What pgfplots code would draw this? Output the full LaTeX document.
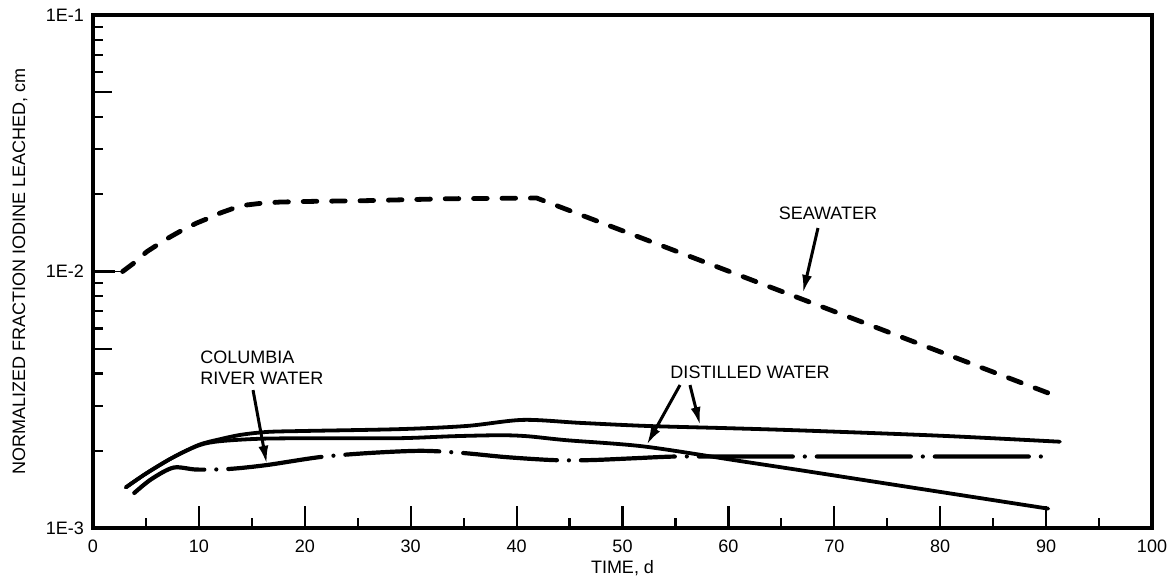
\documentclass[border=0pt]{standalone}
\usepackage{fontspec}
\setmainfont{Liberation Sans}
\usepackage{pgfplots}
\pgfplotsset{compat=1.18}
\usetikzlibrary{arrows.meta}

% leach curves: time (d) vs normalized fraction leached (cm)
\pgfplotstableread{
x y
2.8 0.01000
4.0 0.01090
5.07 0.01194
6.2 0.01280
7.27 0.01363
8.5 0.01455
9.79 0.01545
11.0 0.01620
12.0 0.01690
13.2 0.01760
14.5 0.01817
16.0 0.01848
17.7 0.01866
21.0 0.01878
25.5 0.01888
33.4 0.01922
41.9 0.01934
90.2 0.00336
}\seawater
\pgfplotstableread{
x y
3.1 0.00144
5.0 0.00163
7.5 0.00188
10.0 0.00211
12.0 0.00222
14.0 0.00231
16.5 0.00237
20.0 0.00239
29.0 0.00243
35.3 0.00250
40.6 0.00264
46.0 0.00257
52.3 0.00250
60.0 0.00245
67.0 0.00240
80.0 0.00229
91.3 0.00217
}\distilledA
\pgfplotstableread{
x y
3.1 0.00144
5.0 0.00163
7.5 0.00188
10.0 0.00210
12.0 0.00218
16.0 0.00223
22.0 0.00224
29.0 0.00224
34.0 0.00228
38.4 0.00230
41.0 0.00228
44.7 0.00220
52.0 0.00208
60.9 0.00183
66.8 0.00168
75.4 0.00148
90.2 0.00119
}\distilledB
\pgfplotstableread{
x y
3.9 0.00137
5.5 0.00155
7.6 0.00172
9.8 0.00169
12.9 0.00170
16.4 0.00176
21.4 0.00189
26.0 0.00196
31.0 0.00200
35.0 0.00196
39.0 0.00189
43.5 0.00184
47.0 0.00184
51.0 0.00187
55.0 0.00190
60.0 0.00190
90.4 0.00190
}\columbia

\begin{document}
\begin{tikzpicture}[font=\fontsize{9}{10.5}\selectfont]
\useasboundingbox (-46.5pt,-29pt) rectangle (539pt,264pt);
\begin{axis}[
  at={(0pt,0pt)}, anchor=south west,
  scale only axis, width=529.5pt, height=256.5pt,
  xmin=0, xmax=100, ymode=log, ymin=1e-3, ymax=1e-1,
  xtick={0,10,...,100}, minor x tick num=1,
  ytick={1e-3,1e-2,1e-1}, yticklabels={1E-3,1E-2,1E-1},
  minor ytick={2e-3,3e-3,4e-3,6e-3,7e-3,8e-3,9e-3,2e-2,3e-2,4e-2,6e-2,7e-2,8e-2,9e-2},
  extra y ticks={5e-3,5e-2}, extra y tick labels={},
  extra y tick style={major tick length=9.5pt},
  tick pos=left, tick align=inside,
  major tick length=11pt, minor tick length=4.8pt,
  tick style={line width=1.1pt, black},
  axis line style={line width=1.6pt},
  /pgf/number format/assume math mode=true,
  ticklabel style={font=\fontsize{9}{10.5}\selectfont},
  xticklabel style={yshift=-2.5pt},
  yticklabel style={xshift=-1pt},
  xlabel={TIME, d},
  ylabel={NORMALIZED FRACTION IODINE LEACHED, cm},
  xlabel style={at={(axis description cs:0.5,-0.078)}, anchor=center},
  ylabel style={at={(axis description cs:-0.0689,0.5)}, anchor=center},
  clip=false,
]
% seawater
\addplot[black, line width=0.9pt] coordinates {(0,0.01) (2.8,0.01)};
\addplot[black, line width=2.4pt, line cap=round, line join=round,
  dash pattern=on 6.8pt off 7.4pt] table {\seawater};
% distilled water
\addplot[black, line width=1.9pt, line cap=round, smooth, tension=0.5] table {\distilledA};
\addplot[black, line width=1.9pt, line cap=round, smooth, tension=0.5] table {\distilledB};
% Columbia River water
\addplot[black, line width=2.1pt, line cap=round,
  dash pattern=on 47pt off 6pt on 0pt off 6pt, dash phase=8pt,
  smooth, tension=0.5] table {\columbia};

% annotations
\node at (axis cs:69.4,0.0169) {SEAWATER};
\draw[line width=1.5pt, -{Latex[length=9pt,width=5pt]}]
  (axis cs:68.46,0.01478) -- (axis cs:67.04,0.00825);

\node at (axis cs:62.04,0.00406) {DISTILLED WATER};
\draw[line width=1.5pt, -{Latex[length=9pt,width=5pt]}]
  (axis cs:55.43,0.00361) -- (axis cs:52.29,0.00211);
\draw[line width=1.5pt, -{Latex[length=9pt,width=5pt]}]
  (axis cs:56.37,0.00361) -- (axis cs:57.32,0.00252);

\node[anchor=north west, align=left, inner sep=0pt] at (axis cs:10.1,0.00494)
  {COLUMBIA\\RIVER WATER};
\draw[line width=1.5pt, -{Latex[length=9pt,width=5pt]}]
  (axis cs:15.11,0.00345) -- (axis cs:16.4,0.00178);
\end{axis}
\end{tikzpicture}
\end{document}
